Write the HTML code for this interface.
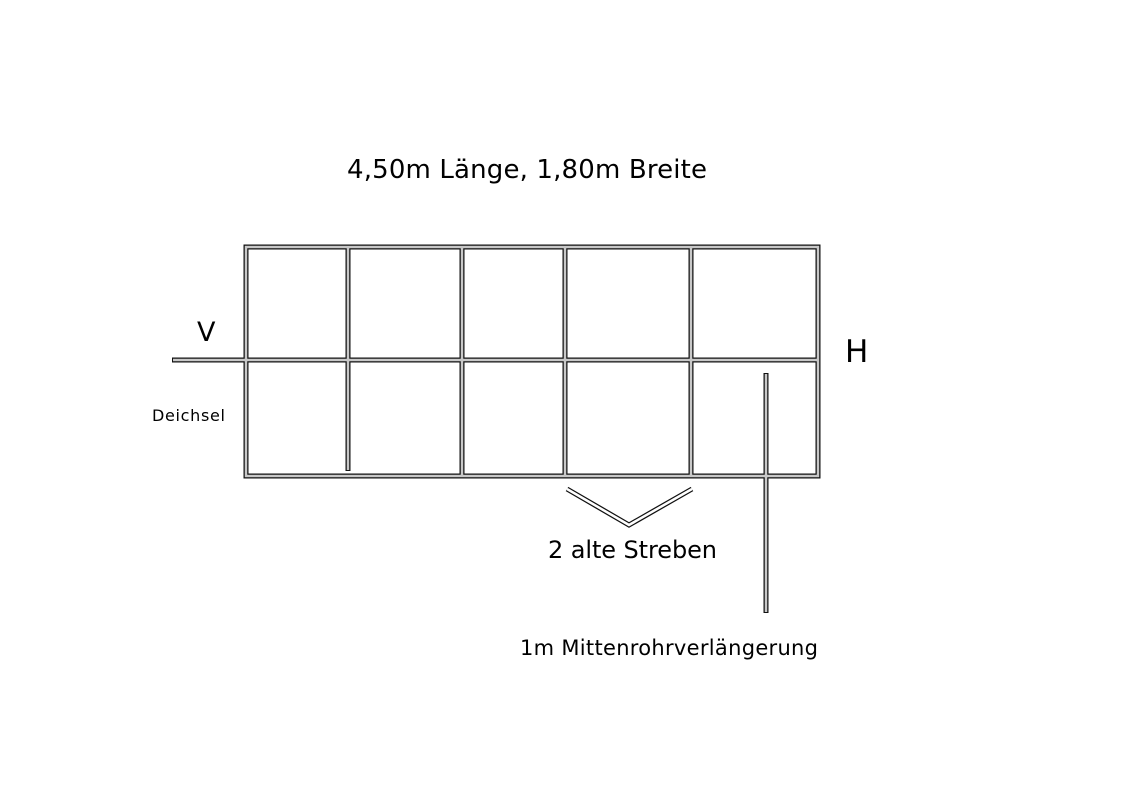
<!DOCTYPE html>
<html><head><meta charset="utf-8"><style>
html,body{margin:0;padding:0;background:#fff;}
svg{display:block;}
text{font-family:"DejaVu Sans","Liberation Sans",sans-serif;fill:#000;}
</style></head><body>
<svg width="1123" height="794" viewBox="0 0 1123 794" xmlns="http://www.w3.org/2000/svg">
<g fill="none" stroke-linecap="butt" stroke-linejoin="miter">
<g stroke="#111" stroke-width="5">
<rect x="246" y="247" width="572" height="229"/>
<line x1="172" y1="360" x2="818" y2="360"/>
<line x1="348" y1="247" x2="348" y2="471"/>
<line x1="462" y1="247" x2="462" y2="476"/>
<line x1="565" y1="247" x2="565" y2="476"/>
<line x1="691" y1="247" x2="691" y2="476"/>
<line x1="766" y1="373" x2="766" y2="613"/>
<polyline points="567,489 629,525 692,489"/>
</g>
<g stroke="#c8c8c8" stroke-width="2.5">
<rect x="246" y="247" width="572" height="229"/>
<line x1="173" y1="360" x2="817" y2="360"/>
<line x1="348" y1="248" x2="348" y2="470"/>
<line x1="462" y1="248" x2="462" y2="475"/>
<line x1="565" y1="248" x2="565" y2="475"/>
<line x1="691" y1="248" x2="691" y2="475"/>
<line x1="766" y1="374" x2="766" y2="612"/>
</g>
<polyline points="567,489 629,525 692,489" stroke="#fff" stroke-width="2.5"/>
</g>
<text x="347" y="178" font-size="26" textLength="360">4,50m Länge, 1,80m Breite</text>
<text x="197" y="341" font-size="27">V</text>
<text x="845" y="362" font-size="31">H</text>
<text x="152" y="421" font-size="16" textLength="73">Deichsel</text>
<text x="548" y="558" font-size="24" textLength="169">2 alte Streben</text>
<text x="520" y="655" font-size="21" textLength="298">1m Mittenrohrverlängerung</text>
</svg>
</body></html>
